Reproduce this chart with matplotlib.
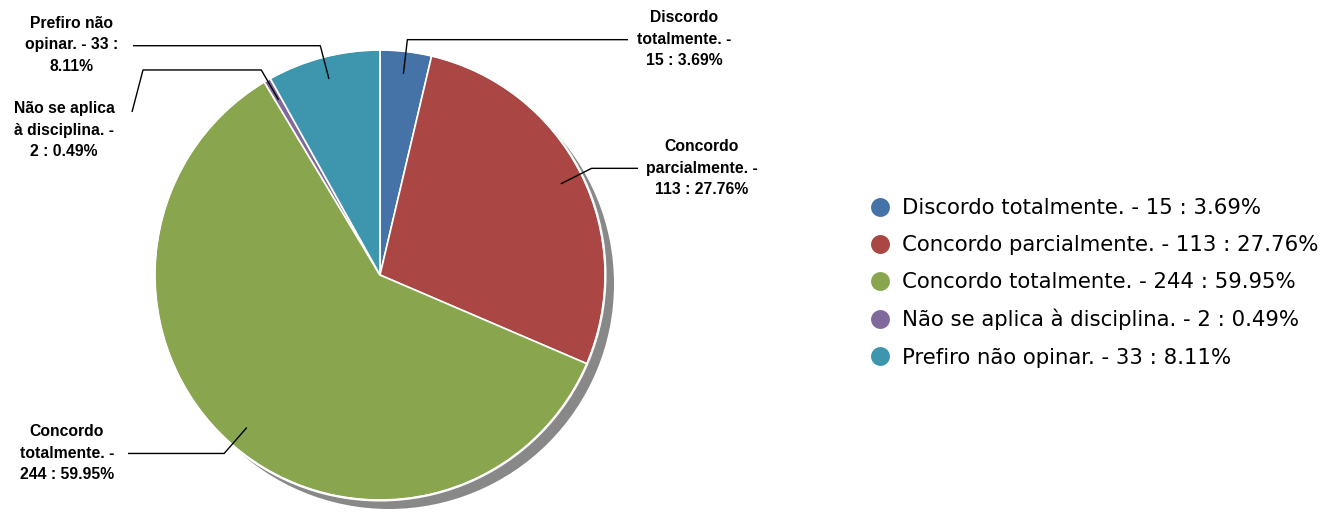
import numpy as np
import matplotlib
matplotlib.use("Agg")
import matplotlib.pyplot as plt
from matplotlib.patches import Circle
from matplotlib.lines import Line2D

# ---- data ----
categories = ['Discordo totalmente.', 'Concordo parcialmente.', 'Concordo totalmente.',
              'Não se aplica à disciplina.', 'Prefiro não opinar.']
counts = [15, 113, 244, 2, 33]
percents = [3.69, 27.76, 59.95, 0.49, 8.11]
colors = ['#4572A7', '#AA4643', '#89A54E', '#80699B', '#3D96AE']

labels = [f"{c} - {n} : {p:.2f}%" for c, n, p in zip(categories, counts, percents)]
pie_labels = ["Discordo\ntotalmente. -\n15 : 3.69%",
              "Concordo\nparcialmente. -\n113 : 27.76%",
              "Concordo\ntotalmente. -\n244 : 59.95%",
              "Não se aplica\nà disciplina. -\n2 : 0.49%",
              "Prefiro não\nopinar. - 33 :\n8.11%"]

# ---- layout (pixel coordinates, y measured from top) ----
W, H = 1343, 514
cx, cy_top, R = 380, 275, 225
cy = H - cy_top
text_pos = [(684, 39), (702, 168), (67, 453), (64, 130), (72, 45)]
leader_end_x = [628, 638, 128, 143, 133]
leader_tail = {3: (132, 112)}

fig = plt.figure(figsize=(W / 100, H / 100), dpi=100)
ax = fig.add_axes([0, 0, 1, 1])

# shadow
shadow = Circle((cx + 9, cy - 9), R, facecolor='#888888', edgecolor='none', zorder=0)
ax.add_patch(shadow)

wedges, _ = ax.pie(counts, colors=colors, startangle=90, counterclock=False,
                   center=(cx, cy), radius=R,
                   wedgeprops=dict(edgecolor='white', linewidth=1.2, zorder=2))
ax.add_patch(Circle((cx, cy), R + 0.5, facecolor='none', edgecolor='white', lw=1.5, zorder=3))

ax.set_xlim(0, W)
ax.set_ylim(0, H)
ax.set_aspect('equal')
ax.axis('off')

for i, w in enumerate(wedges):
    mid = np.deg2rad((w.theta1 + w.theta2) / 2)
    p0 = (cx + 0.9 * R * np.cos(mid), cy + 0.9 * R * np.sin(mid))
    p1 = (cx + 1.053 * R * np.cos(mid), cy + 1.053 * R * np.sin(mid))
    xs = [p0[0], p1[0], leader_end_x[i]]
    ys = [p0[1], p1[1], p1[1]]
    if i in leader_tail:
        xs.append(leader_tail[i][0])
        ys.append(H - leader_tail[i][1])
    ax.plot(xs, ys, color='#000000', lw=1.0, zorder=4, solid_capstyle='butt')
    tx, ty = text_pos[i]
    ax.text(tx, H - ty, pie_labels[i], ha='center', va='center',
            fontsize=11.3, fontweight='bold', family='Liberation Sans',
            color='#000000', linespacing=1.55, zorder=5)

handles = [Line2D([], [], linestyle='none', marker='o', markersize=14.4,
                  markerfacecolor=c, markeredgecolor='white', markeredgewidth=0.8)
           for c in colors]
fig.legend(handles, labels, loc='upper left', bbox_to_anchor=(869.5 / W, 1 - 198 / H),
           frameon=False, borderpad=0, borderaxespad=0, handlelength=1.0,
           handletextpad=0.55, labelspacing=0.8, prop=dict(family='DejaVu Sans', size=15.3))

fig.savefig('out.png', dpi=100)
